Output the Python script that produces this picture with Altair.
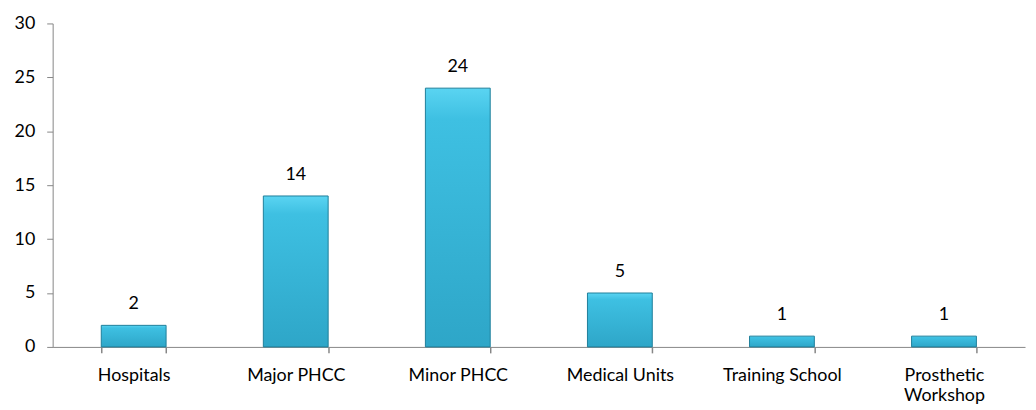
import altair as alt
import pandas as pd

categories = ["Hospitals", "Major PHCC", "Minor PHCC", "Medical Units", "Training School", "Prosthetic Workshop"]
values = [2, 14, 24, 5, 1, 1]
y_ticks = [0, 5, 10, 15, 20, 25, 30]

df = pd.DataFrame({"category": categories, "value": values})

FONT = "Lato"
grad = alt.Gradient(
    gradient="linear",
    stops=[
        alt.GradientStop(color="#5ad4f2", offset=0),
        alt.GradientStop(color="#3ec0e2", offset=0.12),
        alt.GradientStop(color="#2ea6c8", offset=1),
    ],
    x1=0, x2=0, y1=0, y2=1,
)

x = alt.X(
    "category:N",
    sort=categories,
    title=None,
    scale=alt.Scale(paddingInner=0.6, paddingOuter=0.3),
    axis=alt.Axis(
        labelAngle=0,
        tickBand="extent",
        tickSize=6,
        ticks=True,
        labelPadding=14,
        labelBaseline="top",
        labelFontSize=18,
        labelColor="#000000",
        labelFont=FONT,
        domainColor="#868686",
        tickColor="#868686",
        tickWidth=1.5,
        labelExpr="datum.label == 'Prosthetic Workshop' ? ['Prosthetic', 'Workshop'] : datum.label",
        labelLineHeight=20,
    ),
)
y = alt.Y(
    "value:Q",
    title=None,
    scale=alt.Scale(domain=[0, 30], nice=False),
    axis=alt.Axis(
        values=y_ticks,
        grid=False,
        tickSize=6,
        labelPadding=12,
        labelFontSize=18,
        labelColor="#000000",
        labelFont=FONT,
        domainColor="#868686",
        tickColor="#868686",
    ),
)

bars = alt.Chart(df).mark_bar(color=grad, stroke="#1f7f9a", strokeWidth=1).encode(x=x, y=y)
labels = alt.Chart(df).mark_text(
    baseline="middle", dy=-21, fontSize=18, font=FONT, color="#000000"
).encode(x=alt.X("category:N", sort=categories), y="value:Q", text="value:Q")

chart = (
    alt.layer(bars, labels)
    .properties(
        width=980,
        height=326,
        autosize=alt.AutoSizeParams(type="none"),
        padding={"left": 45, "top": 14, "right": 3, "bottom": 62},
        view=alt.ViewBackground(stroke=None, strokeWidth=0),
    )
    .configure_view(stroke=None, strokeWidth=0)
    .configure(background="white")
)

chart.save("out.html", embed_options={"renderer": "svg", "actions": False})
